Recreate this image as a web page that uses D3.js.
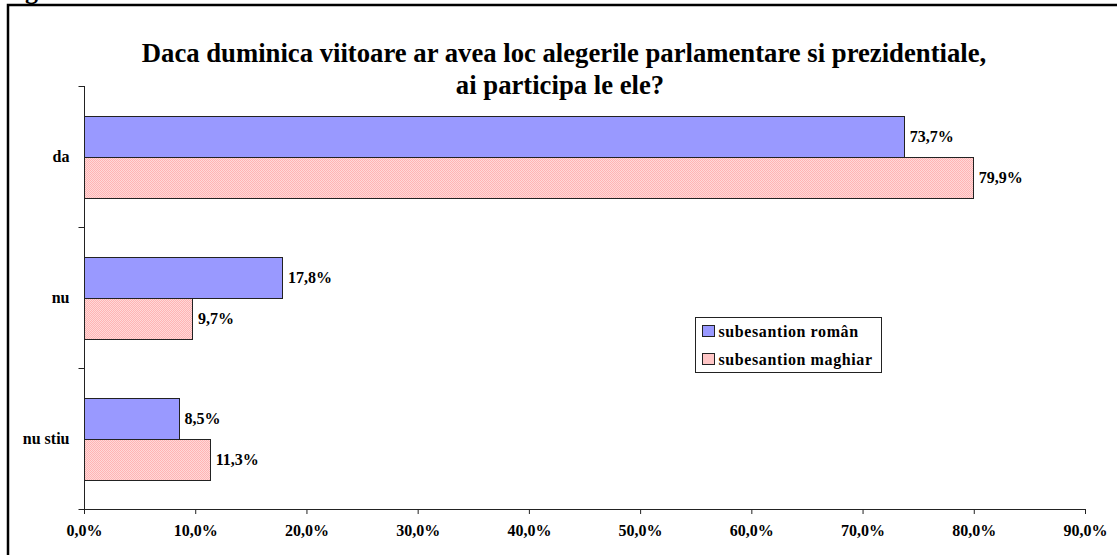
<!DOCTYPE html>
<html>
<head>
<meta charset="utf-8">
<script src="https://cdn.jsdelivr.net/npm/d3@7/dist/d3.min.js"></script>
<style>
  body { margin: 0; background: #fff; }
  svg { display: block; font-family: "Liberation Serif", "Times New Roman", serif; font-weight: bold; }
</style>
</head>
<body>
<svg id="chart" width="1117" height="555"></svg>
<script>
const categories = ["da", "nu", "nu stiu"];
const seriesNames = ["subesantion român", "subesantion maghiar"];
const romanValues = [73.7, 17.8, 8.5];
const maghiarValues = [79.9, 9.7, 11.3];
const xTicks = [0, 10, 20, 30, 40, 50, 60, 70, 80, 90];

const svg = d3.select("#chart");
const pct = d => d.toFixed(1).replace(".", ",") + "%";

// pink checker pattern for the second series (4x4 tile of 1px cells)
const defs = svg.append("defs");
const pat = defs.append("pattern")
  .attr("id", "pink-check")
  .attr("width", 4).attr("height", 4)
  .attr("patternUnits", "userSpaceOnUse");
pat.append("rect").attr("width", 4).attr("height", 4).attr("fill", "#ffd8d8");
const cells = d3.cross(d3.range(4), d3.range(4)).filter(([i, j]) => (i + j) % 2 === 0);
pat.selectAll("rect.c").data(cells).join("rect")
  .attr("class", "c")
  .attr("x", d => d[0]).attr("y", d => d[1])
  .attr("width", 1).attr("height", 1)
  .attr("fill", "#ffb4b4")
  .attr("shape-rendering", "crispEdges");

// outer frame
svg.append("rect")
  .attr("x", 8).attr("y", 5)
  .attr("width", 1300).attr("height", 700)
  .attr("fill", "none").attr("stroke", "#000").attr("stroke-width", 2.5);

// caption above the frame, cut off by the page top
svg.append("text")
  .attr("x", 2).attr("y", -1.5)
  .attr("font-size", 26)
  .text("Figura");

svg.append("text")
  .attr("x", 564).attr("y", 62)
  .attr("text-anchor", "middle")
  .attr("font-size", 26.7)
  .text("Daca duminica viitoare ar avea loc alegerile parlamentare si prezidentiale,");
svg.append("text")
  .attr("x", 560).attr("y", 94)
  .attr("text-anchor", "middle")
  .attr("font-size", 26.7)
  .text("ai participa le ele?");

const plotLeft = 84, plotRight = 1085, plotTop = 86, plotBottom = 509;

const x = d3.scaleLinear().domain([0, 90]).range([plotLeft, plotRight]);
const y = d3.scaleBand().domain(categories).range([plotTop, plotBottom]).paddingInner(0).paddingOuter(0);
const inner = d3.scaleBand().domain(seriesNames).range([0, y.bandwidth()]).paddingInner(0).paddingOuter(0.74);

const rows = categories.map((c, i) => ({
  cat: c,
  vals: [
    { s: seriesNames[0], v: romanValues[i], fill: "#9999ff" },
    { s: seriesNames[1], v: maghiarValues[i], fill: "url(#pink-check)" }
  ]
}));

const g = svg.append("g");
const groups = g.selectAll("g.row").data(rows).join("g")
  .attr("transform", d => `translate(0,${Math.round(y(d.cat))})`);

groups.selectAll("rect").data(d => d.vals).join("rect")
  .attr("x", x(0) + 0.5)
  .attr("y", d => Math.round(inner(d.s)) + 0.5)
  .attr("width", d => Math.round(x(d.v) - x(0)))
  .attr("height", Math.round(inner.bandwidth()))
  .attr("fill", d => d.fill)
  .attr("stroke", "#222")
  .attr("stroke-width", 1);

groups.selectAll("text").data(d => d.vals).join("text")
  .attr("x", d => x(d.v) + 6)
  .attr("y", d => inner(d.s) + inner.bandwidth() / 2)
  .attr("dy", "0.36em")
  .attr("font-size", 16)
  .text(d => pct(d.v));

// x axis
const xAxis = svg.append("g")
  .attr("transform", `translate(0,${plotBottom})`)
  .call(d3.axisBottom(x).tickValues(xTicks).tickSize(5).tickPadding(11)
    .tickFormat(pct));
xAxis.select(".domain").attr("d", `M${plotLeft},0.5H${plotRight}`).attr("stroke", "#222");
xAxis.selectAll(".tick line").attr("stroke", "#222");
xAxis.selectAll("text")
  .attr("font-family", "Liberation Serif, serif")
  .attr("font-weight", "bold")
  .attr("font-size", 16)
  .attr("fill", "#000");

// y axis
const yAxis = svg.append("g").attr("transform", `translate(${plotLeft + 0.5},0)`);
yAxis.append("line")
  .attr("x1", 0).attr("x2", 0).attr("y1", plotTop).attr("y2", plotBottom)
  .attr("stroke", "#222");
const boundaries = categories.map(c => Math.round(y(c))).concat([plotBottom]);
yAxis.selectAll("line.tick").data(boundaries).join("line")
  .attr("class", "tick")
  .attr("x1", -6).attr("x2", 0)
  .attr("y1", d => d + 0.5).attr("y2", d => d + 0.5)
  .attr("stroke", "#222");
yAxis.selectAll("text").data(categories).join("text")
  .attr("x", -15)
  .attr("y", d => y(d) + y.bandwidth() / 2)
  .attr("dy", "0.36em")
  .attr("text-anchor", "end")
  .attr("font-size", 16)
  .text(d => d);

// legend
const legend = svg.append("g").attr("transform", "translate(695.5,317.5)");
legend.append("rect")
  .attr("width", 186).attr("height", 55)
  .attr("fill", "#fff").attr("stroke", "#222");
const legendFills = ["#9999ff", "url(#pink-check)"];
const li = legend.selectAll("g").data(seriesNames).join("g")
  .attr("transform", (d, i) => `translate(7,${14 + i * 28})`);
li.append("rect")
  .attr("y", -6).attr("width", 12).attr("height", 11)
  .attr("fill", (d, i) => legendFills[i])
  .attr("stroke", "#222");
li.append("text")
  .attr("x", 16).attr("dy", "0.36em")
  .attr("font-size", 16)
  .attr("letter-spacing", 0.6)
  .text(d => d);
</script>
</body>
</html>
